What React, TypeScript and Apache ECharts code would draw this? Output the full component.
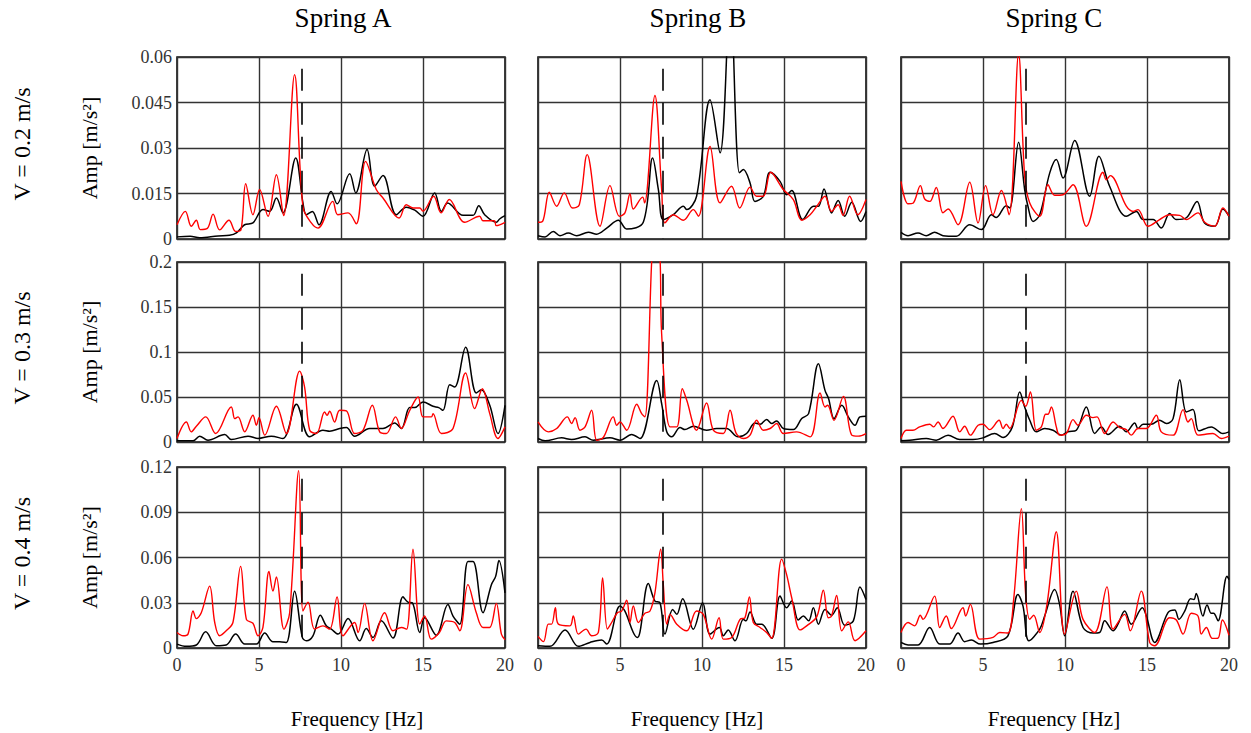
import React, { useEffect, useRef } from "react";
import * as echarts from "echarts";

const COL_TITLES = ["Spring A", "Spring B", "Spring C"];
const ROW_TITLES = ["V = 0.2 m/s", "V = 0.3 m/s", "V = 0.4 m/s"];
const Y_LABEL = "Amp [m/s²]";
const X_LABEL = "Frequency [Hz]";
const Y_MAX = [0.06, 0.2, 0.12];
const Y_INTERVAL = [0.015, 0.05, 0.03];
const X_MIN = 0;
const X_MAX = 20;
const X_INTERVAL = 5;
const DASH_FREQ = 7.6;

// Row 1 (V = 0.2 m/s)
const A1_red = [[0,0.0047],[0.51,0.0091],[0.87,0.0042],[1.18,0.0062],[1.42,0.0031],[1.85,0.0035],[2.2,0.0082],[2.6,0.003],[3.17,0.0062],[3.58,0.0025],[3.9,0.003],[4.19,0.0182],[4.63,0.008],[5.04,0.0163],[5.55,0.0075],[6.06,0.0212],[6.5,0.0077],[7.17,0.0542],[7.68,0.0105],[8.19,0.0053],[8.6,0.0036],[9.5,0.0124],[9.8,0.008],[10.43,0.0086],[10.93,0.005],[11.5,0.0256],[12.15,0.0163],[12.56,0.0135],[13.54,0.0069],[13.98,0.0113],[14.4,0.0102],[14.8,0.0102],[15.0,0.0092],[15.65,0.0141],[16.1,0.0086],[16.6,0.013],[17.54,0.0055],[18.45,0.0075],[18.66,0.006],[19.35,0.006],[19.47,0.0044],[20,0.0055]];
const A1_black = [[0,0.0007],[0.8,0.0009],[1.38,0.0004],[2.5,0.001],[3.2,0.0012],[3.62,0.002],[4.12,0.0047],[4.63,0.0053],[5.24,0.0097],[5.65,0.0091],[6.06,0.0135],[6.46,0.0086],[7.24,0.0267],[7.68,0.0119],[7.89,0.008],[8.25,0.0091],[8.66,0.0047],[9.4,0.0157],[9.76,0.0116],[10.53,0.0215],[10.9,0.0152],[11.59,0.0295],[12.05,0.0174],[12.56,0.0209],[13.37,0.008],[13.98,0.0105],[14.5,0.0095],[15.0,0.0075],[15.71,0.0152],[16.12,0.0091],[16.5,0.0119],[17.44,0.0078],[18.05,0.0078],[18.4,0.011],[18.76,0.008],[19.47,0.0055],[19.67,0.0066],[20,0.0077]];
const B1_red = [[0,0.0055],[0.28,0.0058],[0.69,0.0154],[1.14,0.0108],[1.6,0.0152],[2.11,0.0102],[2.52,0.0113],[3.0,0.0278],[3.78,0.0042],[4.39,0.0176],[4.96,0.0075],[5.3,0.0086],[5.61,0.0149],[5.81,0.0099],[6.38,0.0138],[6.5,0.0119],[7.13,0.0473],[7.54,0.0163],[7.74,0.0053],[8.25,0.008],[8.86,0.0062],[9.47,0.0097],[9.78,0.0075],[10.49,0.0305],[11.1,0.0119],[11.8,0.0174],[12.3,0.0102],[12.93,0.0171],[13.33,0.0141],[13.74,0.0141],[14.19,0.022],[14.96,0.0163],[15.57,0.013],[16.08,0.0062],[16.59,0.008],[17.0,0.0108],[17.5,0.0141],[17.9,0.0091],[18.3,0.0113],[18.6,0.0078],[19.0,0.0141],[19.5,0.008],[20,0.013]];
const B1_black = [[0,0.0011],[0.43,0.0007],[0.93,0.0025],[1.34,0.0011],[1.85,0.002],[2.36,0.0011],[3.07,0.0022],[3.58,0.0016],[4.19,0.0036],[4.9,0.0062],[5.4,0.0033],[6.42,0.0055],[6.99,0.0267],[7.34,0.0163],[7.64,0.0064],[8.25,0.008],[8.86,0.0108],[9.07,0.0097],[9.67,0.0141],[10.49,0.0459],[11.1,0.0284],[11.72,0.08],[12.28,0.0218],[12.52,0.0229],[12.93,0.0185],[13.23,0.0124],[13.74,0.0141],[14.15,0.022],[14.76,0.019],[15.16,0.0146],[15.47,0.016],[16.14,0.0064],[16.8,0.0108],[17.1,0.0108],[17.44,0.0165],[17.9,0.0086],[18.3,0.0127],[18.7,0.0075],[19.13,0.0121],[19.67,0.0058],[20,0.0091]];
const C1_red = [[0,0.019],[0.43,0.0116],[0.73,0.0118],[1.18,0.0176],[1.44,0.0132],[1.76,0.0124],[2.15,0.017],[2.56,0.0086],[2.87,0.0099],[3.48,0.0047],[4.19,0.0187],[4.7,0.0053],[5.16,0.0176],[5.61,0.008],[6.12,0.016],[6.59,0.008],[7.17,0.061],[7.54,0.0207],[7.85,0.0119],[8.46,0.0075],[8.96,0.0179],[9.37,0.0144],[9.88,0.0146],[10.49,0.0179],[11.3,0.0042],[12.32,0.022],[12.52,0.0195],[12.76,0.0209],[13.74,0.0108],[14.15,0.0091],[14.45,0.0097],[15.06,0.0042],[15.77,0.0064],[16.38,0.008],[16.99,0.0078],[17.4,0.0064],[18.11,0.0086],[18.52,0.0055],[19.13,0.0042],[19.63,0.0102],[20,0.0075]];
const C1_black = [[0,0.0022],[0.43,0.0011],[1.04,0.002],[1.54,0.0011],[2.05,0.0022],[2.56,0.0011],[3.37,0.0009],[4.19,0.0047],[4.9,0.0031],[5.51,0.008],[5.81,0.0071],[6.42,0.011],[6.63,0.0102],[7.17,0.0319],[7.54,0.0163],[7.74,0.0108],[8.05,0.0058],[8.46,0.008],[9.07,0.0218],[9.47,0.0262],[9.88,0.0201],[10.59,0.0325],[11.5,0.0141],[12.07,0.0273],[12.72,0.0174],[13.74,0.0075],[14.35,0.0091],[14.76,0.0064],[15.37,0.0064],[15.87,0.0036],[16.38,0.0084],[16.79,0.0064],[17.4,0.007],[18.05,0.0124],[18.5,0.0053],[19.13,0.0042],[19.63,0.0099],[20,0.0075]];

// Row 2 (V = 0.3 m/s)
const A2_red = [[0,0.0039],[0.57,0.0223],[0.87,0.0113],[1.18,0.0175],[1.75,0.0279],[2.36,0.0094],[3.31,0.0389],[3.52,0.026],[3.72,0.0279],[4.13,0.0113],[4.63,0.0297],[4.84,0.0186],[5.0,0.027],[5.35,0.0076],[6.06,0.0397],[6.67,0.0094],[7.48,0.0788],[7.78,0.061],[8.09,0.0131],[8.5,0.0094],[9.0,0.0334],[9.15,0.0297],[9.31,0.0341],[9.61,0.0223],[9.92,0.0352],[10.33,0.0345],[10.83,0.0094],[11.34,0.013],[11.91,0.0408],[12.36,0.0113],[12.76,0.0094],[13.33,0.0279],[13.68,0.015],[14.19,0.0352],[14.7,0.05],[15.0,0.0279],[15.51,0.0279],[15.61,0.0315],[16.12,0.0094],[16.83,0.015],[17.6,0.0766],[18.15,0.0371],[18.62,0.0592],[19.07,0.0315],[19.57,0.0039],[20,0.0168]];
const A2_black = [[0,0.0013],[0.98,0.0013],[1.38,0.0065],[1.89,0.002],[2.91,0.0083],[3.31,0.0028],[4.33,0.0065],[4.94,0.0039],[5.75,0.0065],[6.46,0.0039],[7.28,0.0419],[8.09,0.0057],[8.9,0.0131],[9.31,0.012],[9.92,0.0149],[10.33,0.016],[10.83,0.0065],[11.75,0.015],[12.56,0.015],[13.27,0.0212],[13.68,0.015],[14.19,0.0382],[14.5,0.0382],[15.0,0.0445],[15.61,0.0397],[15.96,0.0382],[16.22,0.0352],[16.63,0.0637],[16.93,0.061],[17.6,0.1054],[18.25,0.0544],[18.56,0.0581],[19.07,0.0408],[19.57,0.0094],[20,0.0408]];
const B2_red = [[0,0.0223],[0.63,0.0113],[1.14,0.015],[1.79,0.0279],[2.05,0.0205],[2.26,0.0271],[2.56,0.0131],[2.87,0.0168],[3.27,0.0352],[3.58,0.002],[3.98,0.005],[4.59,0.0279],[4.8,0.0186],[5.0,0.0223],[5.41,0.0131],[6.02,0.0419],[6.32,0.0315],[6.52,0.0279],[6.93,0.2],[7.2,0.28],[7.45,0.2],[7.54,0.12],[8.05,0.0168],[8.46,0.0168],[8.8,0.0592],[9.07,0.0463],[9.67,0.0131],[10.28,0.0434],[10.69,0.0131],[11.3,0.0094],[11.71,0.0352],[12.07,0.0101],[12.52,0.0039],[12.93,0.0076],[13.33,0.0242],[13.74,0.0131],[14.15,0.015],[14.55,0.0205],[14.96,0.0094],[15.77,0.0113],[16.59,0.0057],[17.2,0.0544],[17.5,0.0389],[17.66,0.0408],[18.05,0.0242],[18.62,0.0507],[19.13,0.0076],[19.53,0.0065],[20,0.0094]];
const B2_black = [[0,0.0039],[0.43,0.0013],[1.44,0.0046],[2.05,0.0028],[2.87,0.0057],[3.37,0.002],[4.39,0.0046],[5.0,0.002],[5.71,0.0083],[6.22,0.0039],[7.24,0.0684],[7.54,0.0426],[7.85,0.0113],[8.15,0.0057],[8.66,0.016],[8.96,0.0138],[9.47,0.0175],[10.28,0.0131],[10.89,0.015],[11.5,0.015],[12.2,0.0057],[12.72,0.0094],[13.23,0.0212],[13.54,0.0197],[13.94,0.0249],[14.25,0.0205],[14.55,0.0234],[14.96,0.015],[15.57,0.0138],[16.08,0.026],[16.5,0.0315],[17.1,0.0869],[17.5,0.0574],[17.72,0.0481],[18.05,0.026],[18.52,0.0408],[18.92,0.0279],[19.33,0.0186],[19.63,0.0279],[20,0.0286]];
const C2_red = [[0,0.0039],[0.33,0.0131],[0.73,0.0131],[1.14,0.0168],[1.75,0.0197],[1.99,0.0168],[2.26,0.0223],[2.56,0.015],[3.17,0.0286],[3.58,0.0113],[3.88,0.0175],[4.23,0.0076],[4.7,0.0186],[5.0,0.0197],[5.41,0.0138],[5.98,0.0242],[6.22,0.015],[6.42,0.0197],[6.63,0.015],[7.34,0.0463],[7.6,0.0397],[7.89,0.0555],[8.25,0.0131],[8.56,0.0168],[8.82,0.0308],[8.96,0.0308],[9.17,0.0389],[9.47,0.0168],[9.67,0.0076],[10.08,0.0094],[10.49,0.0249],[10.79,0.0186],[11.3,0.0297],[11.71,0.0271],[11.95,0.0279],[12.42,0.0094],[12.93,0.0223],[13.33,0.016],[13.74,0.0138],[14.04,0.0076],[14.45,0.015],[14.96,0.015],[15.57,0.0297],[15.87,0.0113],[16.59,0.0076],[17.2,0.036],[17.5,0.0223],[17.7,0.026],[18.11,0.0076],[19.02,0.0094],[19.53,0.0039],[20,0.0065]];
const C2_black = [[0,0.0013],[0.53,0.002],[1.54,0.0039],[2.15,0.002],[2.87,0.0076],[3.58,0.0028],[4.39,0.0028],[5.0,0.0046],[5.71,0.0094],[6.22,0.005],[6.79,0.0168],[7.24,0.0555],[7.54,0.0389],[7.85,0.0242],[8.25,0.0113],[8.76,0.015],[9.27,0.0131],[9.78,0.0076],[10.18,0.0113],[10.69,0.0131],[11.3,0.0389],[11.81,0.0094],[12.22,0.0168],[12.62,0.0083],[13.33,0.0175],[13.74,0.0113],[14.25,0.0212],[14.45,0.015],[14.76,0.0197],[15.26,0.0197],[15.77,0.0242],[16.18,0.0205],[16.59,0.026],[17.0,0.0692],[17.4,0.0334],[17.8,0.036],[18.17,0.0124],[18.92,0.0168],[19.63,0.0094],[20,0.0113]];

// Row 3 (V = 0.4 m/s)
const A3_red = [[0,0.0103],[0.37,0.0081],[0.67,0.0092],[0.98,0.0245],[1.18,0.0195],[1.48,0.0234],[1.99,0.041],[2.3,0.0169],[2.6,0.0081],[3.0,0.0114],[3.41,0.0169],[3.88,0.0541],[4.23,0.019],[4.63,0.0164],[4.94,0.0081],[5.24,0.0136],[5.61,0.0508],[5.85,0.0377],[6.06,0.0471],[6.52,0.0125],[6.87,0.0234],[7.42,0.1176],[7.68,0.0245],[7.99,0.0304],[8.39,0.0125],[8.9,0.0147],[9.31,0.0125],[9.76,0.0339],[10.12,0.0081],[10.83,0.0169],[11.04,0.0103],[11.44,0.0296],[11.95,0.0048],[12.66,0.0234],[13.17,0.0114],[13.68,0.0136],[14.0,0.0125],[14.39,0.0655],[14.8,0.0158],[15.1,0.0212],[15.5,0.0059],[16.0,0.0103],[16.42,0.018],[16.93,0.0169],[17.24,0.0114],[17.74,0.042],[18.25,0.0234],[18.66,0.0136],[19.06,0.0136],[19.47,0.0296],[19.78,0.0092],[20,0.0055]];
const A3_black = [[0,0.0026],[0.57,0.0011],[1.18,0.002],[1.75,0.0107],[2.4,0.0015],[3.0,0.002],[3.58,0.0092],[4.13,0.0026],[4.84,0.0026],[5.35,0.0099],[5.85,0.0042],[6.26,0.0042],[6.67,0.0037],[7.17,0.0377],[7.64,0.007],[7.89,0.0048],[8.29,0.008],[8.74,0.0217],[9.1,0.0147],[9.41,0.0125],[9.82,0.0092],[10.43,0.0195],[11.14,0.0048],[11.54,0.0129],[11.95,0.007],[12.46,0.018],[13.17,0.0066],[13.78,0.0339],[14.08,0.0304],[14.35,0.03],[14.8,0.0103],[15.1,0.0201],[15.81,0.0085],[16.52,0.0289],[16.83,0.0212],[17.24,0.0158],[17.74,0.0574],[18.05,0.0574],[18.66,0.0234],[19.17,0.042],[19.43,0.0475],[19.63,0.058],[20,0.0366]];
const B3_red = [[0,0.0077],[0.33,0.0042],[0.63,0.0158],[0.83,0.0158],[1.06,0.0267],[1.24,0.0158],[1.95,0.0147],[2.15,0.0212],[2.46,0.0092],[2.93,0.0125],[3.27,0.0081],[3.68,0.0103],[3.94,0.0464],[4.23,0.0125],[4.49,0.0169],[4.84,0.0234],[5.1,0.0245],[5.41,0.0317],[5.61,0.0169],[5.81,0.0278],[6.12,0.0169],[6.52,0.023],[6.83,0.0245],[7.13,0.0366],[7.48,0.0655],[7.64,0.042],[7.85,0.0158],[8.05,0.0223],[8.46,0.0158],[9.07,0.0114],[9.67,0.0245],[10.08,0.0223],[10.59,0.0059],[11.04,0.0201],[11.3,0.0059],[11.81,0.007],[12.32,0.019],[12.62,0.0201],[12.89,0.0339],[13.13,0.0169],[13.54,0.0136],[13.94,0.0103],[14.25,0.0064],[14.86,0.0589],[15.16,0.0486],[15.47,0.0333],[15.98,0.012],[16.38,0.0147],[17.0,0.0208],[17.4,0.0383],[17.7,0.0201],[17.9,0.0212],[18.21,0.0348],[18.52,0.0114],[18.92,0.0173],[19.33,0.0048],[20,0.0114]];
const B3_black = [[0,0.0015],[0.73,0.0011],[1.65,0.012],[2.46,0.0011],[3.17,0.0037],[3.88,0.0053],[4.19,0.0026],[5.0,0.0278],[5.3,0.0245],[5.81,0.0103],[6.06,0.007],[6.22,0.0107],[6.73,0.0427],[7.13,0.0311],[7.44,0.03],[7.74,0.0092],[8.21,0.0256],[8.46,0.0223],[8.82,0.0326],[9.47,0.0125],[10.04,0.03],[10.49,0.0092],[11.06,0.0136],[11.3,0.0081],[11.6,0.012],[12.01,0.0048],[12.52,0.019],[12.68,0.018],[12.93,0.0239],[13.33,0.0158],[13.64,0.0158],[14.25,0.0064],[14.76,0.0344],[15.16,0.0267],[15.47,0.0311],[15.87,0.0186],[16.18,0.0212],[16.5,0.018],[16.79,0.0267],[17.1,0.0158],[17.5,0.0256],[17.9,0.0217],[18.25,0.0267],[18.7,0.0151],[19.23,0.018],[19.63,0.0405],[20,0.0322]];
const C3_red = [[0,0.0103],[0.43,0.0169],[0.83,0.0147],[1.18,0.0217],[1.34,0.019],[2.05,0.0344],[2.36,0.0136],[2.76,0.0212],[3.07,0.0129],[3.78,0.0267],[3.94,0.0212],[4.23,0.0289],[4.8,0.0059],[5.61,0.007],[6.02,0.0103],[6.52,0.0099],[6.87,0.0322],[7.34,0.0924],[7.6,0.0355],[7.85,0.019],[8.09,0.0217],[8.46,0.0103],[8.9,0.0289],[9.47,0.0771],[9.98,0.0092],[10.69,0.0377],[11.1,0.019],[11.81,0.0103],[12.56,0.0405],[12.93,0.0125],[13.64,0.0223],[13.98,0.0114],[14.65,0.0377],[15.16,0.0037],[15.47,0.0015],[16.38,0.0201],[16.79,0.0186],[17.2,0.0092],[17.7,0.023],[18.11,0.0212],[18.31,0.0092],[18.62,0.0136],[18.98,0.0064],[19.33,0.0066],[19.6,0.0186],[20,0.0085]];
const C3_black = [[0,0.0037],[0.43,0.002],[1.04,0.002],[1.75,0.0136],[2.36,0.0026],[2.96,0.0026],[3.48,0.0099],[3.88,0.0042],[4.29,0.0053],[4.84,0.0026],[5.61,0.0037],[6.52,0.0081],[7.13,0.0355],[7.44,0.0278],[7.8,0.0048],[8.46,0.0125],[8.76,0.0212],[9.37,0.0388],[9.67,0.0289],[9.98,0.0081],[10.49,0.0377],[11.1,0.0136],[11.71,0.0099],[12.11,0.0103],[12.42,0.018],[12.93,0.0114],[13.23,0.0158],[13.64,0.0245],[14.04,0.0158],[14.72,0.0267],[14.96,0.0212],[15.47,0.0037],[16.28,0.0234],[16.69,0.0252],[16.95,0.019],[17.3,0.0245],[17.66,0.0326],[17.86,0.0322],[18.0,0.0361],[18.41,0.0212],[18.66,0.0285],[18.92,0.023],[19.06,0.023],[19.33,0.018],[19.88,0.0475],[20,0.0453]];

const PANELS = [
  [[A1_black, A1_red], [B1_black, B1_red], [C1_black, C1_red]],
  [[A2_black, A2_red], [B2_black, B2_red], [C2_black, C2_red]],
  [[A3_black, A3_red], [B3_black, B3_red], [C3_black, C3_red]],
];

const FONT = "Liberation Serif";
const COL_LEFT = [177, 538, 901];
const COL_W = 328;
const ROW_TOP = [57, 262, 467];
const ROW_H = [182, 180, 181];
const TITLE_X = [343, 698, 1054];
const XLABEL_X = [357, 697, 1054];

function buildOption() {
  const grid: any[] = [];
  const xAxis: any[] = [];
  const yAxis: any[] = [];
  const series: any[] = [];
  const gridLine = { show: true, lineStyle: { color: "#333", width: 1.4 } };
  for (let r = 0; r < 3; r++) {
    for (let c = 0; c < 3; c++) {
      const i = r * 3 + c;
      grid.push({
        left: COL_LEFT[c], top: ROW_TOP[r], width: COL_W, height: ROW_H[r],
        show: true, borderColor: "#111", borderWidth: 1.6, backgroundColor: "#fff",
      });
      xAxis.push({
        gridIndex: i, type: "value", min: X_MIN, max: X_MAX, interval: X_INTERVAL,
        axisLine: { show: false }, axisTick: { show: false },
        axisLabel: { show: r === 2, fontFamily: FONT, fontSize: 18, color: "#333", margin: 8 },
        splitLine: gridLine,
      });
      yAxis.push({
        gridIndex: i, type: "value", min: 0, max: Y_MAX[r], interval: Y_INTERVAL[r],
        axisLine: { show: false }, axisTick: { show: false },
        axisLabel: {
          show: c === 0, fontFamily: FONT, fontSize: 18, color: "#333", margin: 5,
          formatter: (v: number) => String(+v.toFixed(3)),
        },
        splitLine: gridLine,
      });
      const [blk, red] = PANELS[r][c];
      series.push({
        type: "line", xAxisIndex: i, yAxisIndex: i, data: blk, symbol: "none",
        smooth: 0.35, clip: true, lineStyle: { color: "#000", width: 1.5 },
      });
      series.push({
        type: "line", xAxisIndex: i, yAxisIndex: i, data: red, symbol: "none",
        smooth: 0.35, clip: true, lineStyle: { color: "#ff0000", width: 1.4 },
        markLine: {
          silent: true, symbol: ["none", "none"], label: { show: false },
          lineStyle: { color: "#000", width: 1.6, type: [22, 12] },
          data: [[{ coord: [DASH_FREQ, Y_MAX[r] * 0.935] }, { coord: [DASH_FREQ, 0] }]],
        },
      });
    }
  }
  const graphic: any[] = [];
  for (let c = 0; c < 3; c++) {
    graphic.push({
      type: "text", x: TITLE_X[c], y: 18,
      style: { text: COL_TITLES[c], fontFamily: FONT, fontSize: 27, fill: "#000", align: "center", verticalAlign: "middle" },
    });
    graphic.push({
      type: "text", x: XLABEL_X[c], y: 719,
      style: { text: X_LABEL, fontFamily: FONT, fontSize: 21, fill: "#000", align: "center", verticalAlign: "middle" },
    });
  }
  for (let r = 0; r < 3; r++) {
    const cy = ROW_TOP[r] + ROW_H[r] / 2;
    graphic.push({
      type: "text", x: 22, y: cy - 4, rotation: Math.PI / 2,
      style: { text: ROW_TITLES[r], fontFamily: FONT, fontSize: 24, fill: "#000", align: "center", verticalAlign: "middle" },
    });
    graphic.push({
      type: "text", x: 89, y: cy, rotation: Math.PI / 2,
      style: { text: Y_LABEL, fontFamily: FONT, fontSize: 22, fill: "#000", align: "center", verticalAlign: "middle" },
    });
  }
  return { animation: false, backgroundColor: "#fff", grid, xAxis, yAxis, series, graphic };
}

export default function App() {
  const ref = useRef<HTMLDivElement>(null);
  useEffect(() => {
    if (!ref.current) return;
    const chart = echarts.init(ref.current, undefined, { renderer: "svg" });
    chart.setOption(buildOption() as any);
    return () => chart.dispose();
  }, []);
  return (
    <div
      ref={ref}
      style={{ position: "fixed", left: 0, top: 0, width: 1251, height: 733, background: "#fff" }}
    />
  );
}
